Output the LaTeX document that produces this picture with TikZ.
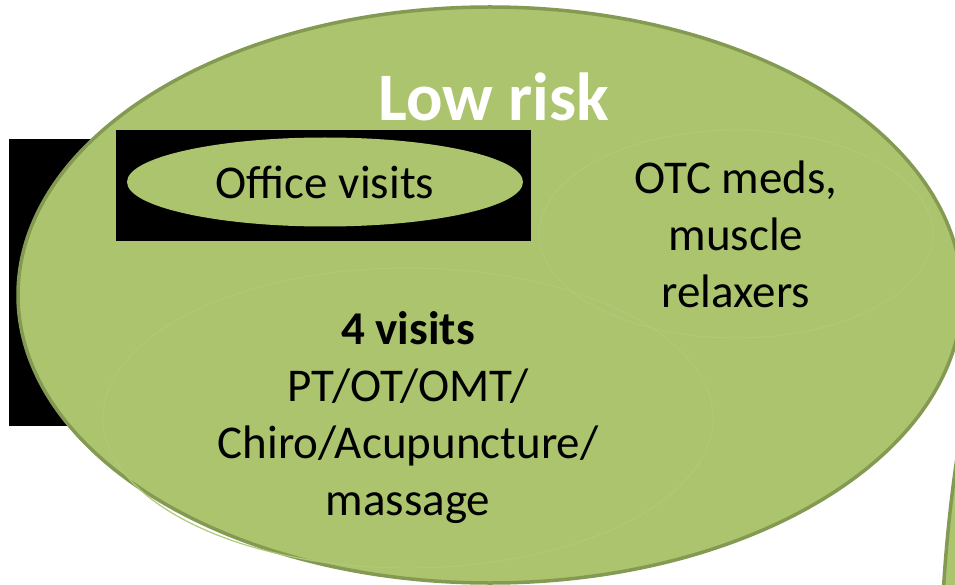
\documentclass[tikz,border=0pt]{standalone}
\usepackage{fontspec}
\setmainfont{Carlito}
\usetikzlibrary{shapes.geometric}
\definecolor{leaf}{HTML}{ABC46D}
\definecolor{leafrim}{HTML}{849A52}
\definecolor{leafsoft}{HTML}{B1C878}
\tikzset {blob/.style={ellipse,fill=leaf,draw=leafrim,line width=3.5pt,inner sep=0pt},
  soft/.style={ellipse,draw=leafsoft,line width=1.2pt,inner sep=0pt,align=center,
    font=\fontsize{47}{57}\selectfont},
  blackbox/.style={fill=black}}

\begin{document}
\begin{tikzpicture}[x=1pt,y=-1pt]
\useasboundingbox (0,0) rectangle (955,585);
\clip (0,0) rectangle (955,585);
\fill[blackbox] (9,139) rectangle (130,426);
\node[blob,minimum width=944,minimum height=576] (lowrisk) at (490,295) {};
\node[blob,minimum width=400,minimum height=1200] (nextrisk) at (1140,700) {};
\node[text=white,font=\bfseries\fontsize{68}{80}\selectfont] (title) at (494,97) {Low risk};
\fill[blackbox] (116,130) rectangle (531,241);
\node[ellipse,fill=leaf,minimum width=396,minimum height=89,inner sep=0pt,
  font=\fontsize{47}{57}\selectfont] (office) at (325,182) {Office visits};
\node[soft,minimum width=394,minimum height=198] (otc) at (736,234)
  {OTC meds,\\muscle\\relaxers};
\node[soft,minimum width=610,minimum height=264] (visits) at (408,418)
  {\textbf{4 visits}\\PT/OT/OMT/\\Chiro/Acupuncture/\\massage};
\end{tikzpicture}
\end{document}
